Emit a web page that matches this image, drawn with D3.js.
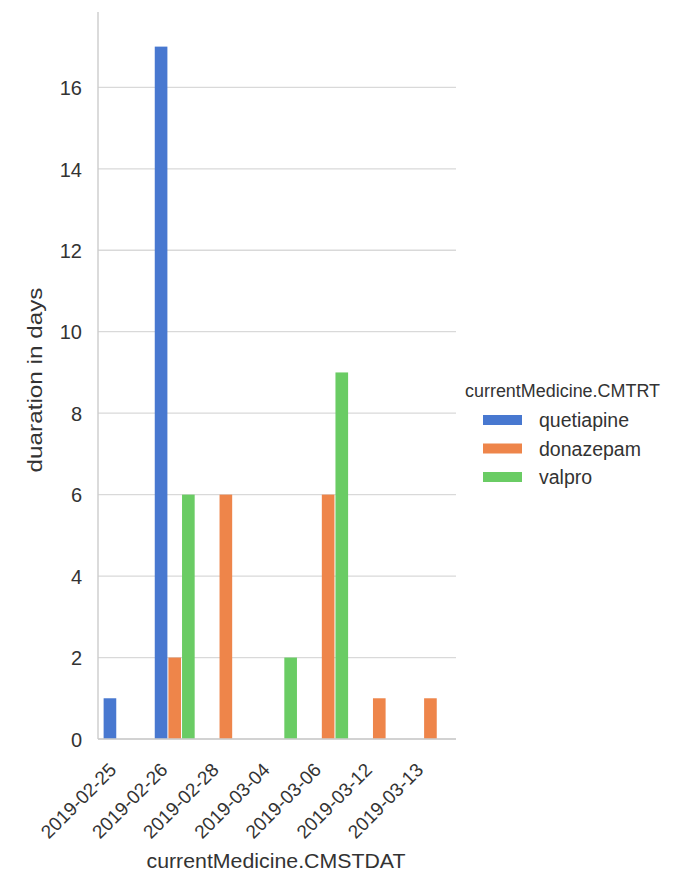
<!DOCTYPE html>
<html><head><meta charset="utf-8">
<script src="https://cdn.jsdelivr.net/npm/d3@7"></script>
<style>body{margin:0;background:#fff;} text{font-family:"Liberation Sans",Arial,sans-serif;fill:#333;}</style>
</head><body><svg id="c" width="677" height="873"></svg>
<script>
const dates = ["2019-02-25","2019-02-26","2019-02-28","2019-03-04","2019-03-06","2019-03-12","2019-03-13"];
const medicines = ["quetiapine","donazepam","valpro"];
const quetiapine = [1,17,null,null,null,null,null];
const donazepam = [null,2,6,null,6,1,1];
const valpro = [null,6,null,2,9,null,null];
const yTicks = [0,2,4,6,8,10,12,14,16];
const colors = ["#4878d0","#ee854a","#6acc64"];

(function(){
const series = [quetiapine, donazepam, valpro];
const svg = d3.select("#c");
const pL = 98, pR = 456, pT = 12, pB = 739;
const x = d3.scaleBand().domain(dates).range([pL, pR]).paddingInner(0.2).paddingOuter(0.1);
const xs = d3.scaleBand().domain(medicines).range([0, x.bandwidth()]);
const ymax = 17 * 1.05;
const y = d3.scaleLinear().domain([0, ymax]).range([pB, pT]);

svg.append("g").selectAll("line").data(yTicks).join("line")
  .attr("x1", pL).attr("x2", pR).attr("y1", d => y(d)).attr("y2", d => y(d))
  .attr("stroke", "#d9d9d9").attr("stroke-width", 1.3);

const flat = [];
series.forEach((s, i) => s.forEach((v, j) => { if (v != null) flat.push({m: medicines[i], d: dates[j], v, i}); }));
svg.append("g").selectAll("rect").data(flat).join("rect")
  .attr("x", d => x(d.d) + xs(d.m) + 0.5)
  .attr("width", xs.bandwidth() - 1)
  .attr("y", d => y(d.v)).attr("height", d => y(0) - y(d.v))
  .attr("fill", d => colors[d.i]);

svg.append("line").attr("x1", pL).attr("x2", pL).attr("y1", pT).attr("y2", pB).attr("stroke", "#cccccc").attr("stroke-width", 1.4);
svg.append("line").attr("x1", pL).attr("x2", pR).attr("y1", pB).attr("y2", pB).attr("stroke", "#cccccc").attr("stroke-width", 1.4);

const yAxis = d3.axisLeft(y).tickValues(yTicks).tickSize(0).tickPadding(16);
const ya = svg.append("g").attr("transform", `translate(${pL},0)`).call(yAxis);
ya.select(".domain").remove();
ya.selectAll("text").attr("font-size", 20).attr("fill", "#333").attr("font-family", "Liberation Sans, Arial, sans-serif")
  .attr("dy", "0.36em");

const xAxis = d3.axisBottom(x).tickSize(0).tickPadding(0);
const xa = svg.append("g").attr("transform", `translate(0,${pB})`).call(xAxis);
xa.select(".domain").remove();
xa.selectAll("text").attr("font-size", 19).attr("fill", "#333")
  .attr("font-family", "Liberation Sans, Arial, sans-serif")
  .attr("text-anchor", "end").attr("y", 0).attr("dy", 0)
  .attr("transform", "translate(-6,32) rotate(-45)");

svg.append("text").attr("x", 276).attr("y", 868).attr("text-anchor", "middle").attr("font-size", 20)
  .attr("textLength", 259).attr("lengthAdjust", "spacingAndGlyphs").text("currentMedicine.CMSTDAT");
svg.append("text").attr("transform", `translate(42,380) rotate(-90)`).attr("text-anchor", "middle").attr("font-size", 21)
  .attr("textLength", 185).attr("lengthAdjust", "spacingAndGlyphs").text("duaration in days");

const lg = svg.append("g");
lg.append("text").attr("x", 465).attr("y", 397).attr("font-size", 18).attr("textLength", 195).attr("lengthAdjust", "spacingAndGlyphs").text("currentMedicine.CMTRT");
medicines.forEach((m, i) => {
  const yy = 420 + i * 28.5;
  lg.append("rect").attr("x", 483).attr("y", yy - 5).attr("width", 39).attr("height", 10).attr("fill", colors[i]);
  lg.append("text").attr("x", 539).attr("y", yy + 7).attr("font-size", 19.5).text(m);
});
})();
</script></body></html>
